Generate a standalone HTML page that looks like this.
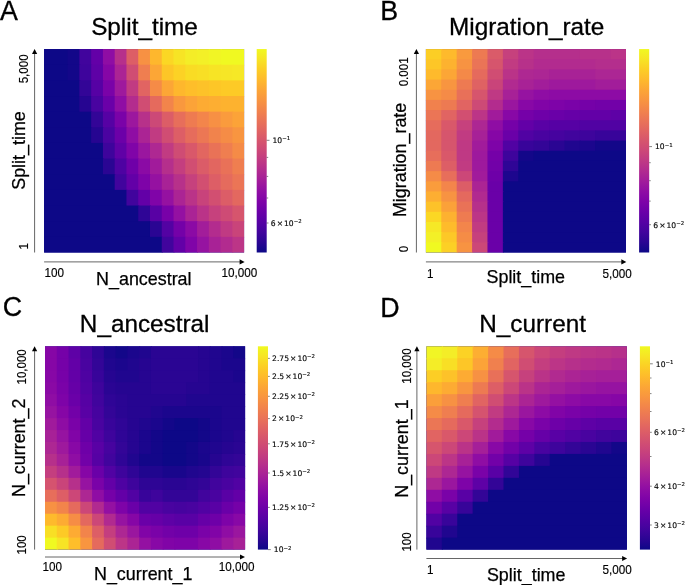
<!DOCTYPE html>
<html><head><meta charset="utf-8"><title>Figure</title>
<style>
html,body{margin:0;padding:0;background:#fff;}
body{width:685px;height:585px;overflow:hidden;}
svg{display:block;}
text{fill:#000;}
</style></head><body>
<svg width="685" height="585" viewBox="0 0 685 585">
<rect width="685" height="585" fill="#fff"/>
<text x="0" y="19.8" text-anchor="start" font-family="Liberation Sans, Arial, sans-serif" font-size="26.8" stroke="#000" stroke-width="0.3">A</text>
<text x="144.5" y="35.2" text-anchor="middle" font-family="Liberation Sans, Arial, sans-serif" font-size="24.3" stroke="#000" stroke-width="0.3">Split_time</text>
<rect x="44.10" y="49.06" width="200.00" height="203.44" fill="#0d0887"/>
<rect x="44.10" y="49.06" width="24.53" height="16.65" fill="#0d0887"/>
<rect x="67.63" y="49.06" width="12.76" height="16.65" fill="#130789"/>
<rect x="79.39" y="49.06" width="12.76" height="16.65" fill="#41049d"/>
<rect x="91.16" y="49.06" width="12.76" height="16.65" fill="#6300a7"/>
<rect x="102.92" y="49.06" width="12.76" height="16.65" fill="#8f0da4"/>
<rect x="114.69" y="49.06" width="12.76" height="16.65" fill="#b6308b"/>
<rect x="126.45" y="49.06" width="12.76" height="16.65" fill="#dd5e66"/>
<rect x="138.22" y="49.06" width="12.76" height="16.65" fill="#f79143"/>
<rect x="149.98" y="49.06" width="12.76" height="16.65" fill="#feb72d"/>
<rect x="161.75" y="49.06" width="12.76" height="16.65" fill="#fbd724"/>
<rect x="173.51" y="49.06" width="12.76" height="16.65" fill="#f7e425"/>
<rect x="185.28" y="49.06" width="12.76" height="16.65" fill="#f4ed27"/>
<rect x="197.04" y="49.06" width="12.76" height="16.65" fill="#f3f027"/>
<rect x="208.81" y="49.06" width="12.76" height="16.65" fill="#f1f525"/>
<rect x="220.57" y="49.06" width="23.53" height="16.65" fill="#f0f921"/>
<rect x="44.10" y="64.71" width="24.53" height="16.65" fill="#0d0887"/>
<rect x="67.63" y="64.71" width="12.76" height="16.65" fill="#130789"/>
<rect x="79.39" y="64.71" width="12.76" height="16.65" fill="#3e049c"/>
<rect x="91.16" y="64.71" width="12.76" height="16.65" fill="#5e01a6"/>
<rect x="102.92" y="64.71" width="12.76" height="16.65" fill="#8606a6"/>
<rect x="114.69" y="64.71" width="12.76" height="16.65" fill="#ab2494"/>
<rect x="126.45" y="64.71" width="12.76" height="16.65" fill="#d04d73"/>
<rect x="138.22" y="64.71" width="12.76" height="16.65" fill="#ef7e50"/>
<rect x="149.98" y="64.71" width="12.76" height="16.65" fill="#fca636"/>
<rect x="161.75" y="64.71" width="12.76" height="16.65" fill="#fdc627"/>
<rect x="173.51" y="64.71" width="12.76" height="16.65" fill="#fcd225"/>
<rect x="185.28" y="64.71" width="12.76" height="16.65" fill="#f9dc24"/>
<rect x="197.04" y="64.71" width="12.76" height="16.65" fill="#f8df25"/>
<rect x="208.81" y="64.71" width="12.76" height="16.65" fill="#f7e425"/>
<rect x="220.57" y="64.71" width="12.76" height="16.65" fill="#f6e626"/>
<rect x="232.34" y="64.71" width="11.76" height="16.65" fill="#f6e826"/>
<rect x="44.10" y="80.36" width="36.29" height="16.65" fill="#0d0887"/>
<rect x="79.39" y="80.36" width="12.76" height="16.65" fill="#330597"/>
<rect x="91.16" y="80.36" width="12.76" height="16.65" fill="#5601a4"/>
<rect x="102.92" y="80.36" width="12.76" height="16.65" fill="#7a02a8"/>
<rect x="114.69" y="80.36" width="12.76" height="16.65" fill="#9e199d"/>
<rect x="126.45" y="80.36" width="12.76" height="16.65" fill="#c13b82"/>
<rect x="138.22" y="80.36" width="12.76" height="16.65" fill="#e16462"/>
<rect x="149.98" y="80.36" width="12.76" height="16.65" fill="#f58b47"/>
<rect x="161.75" y="80.36" width="12.76" height="16.65" fill="#fca636"/>
<rect x="173.51" y="80.36" width="12.76" height="16.65" fill="#feb72d"/>
<rect x="185.28" y="80.36" width="12.76" height="16.65" fill="#febe2a"/>
<rect x="197.04" y="80.36" width="12.76" height="16.65" fill="#fdc229"/>
<rect x="208.81" y="80.36" width="12.76" height="16.65" fill="#fdc627"/>
<rect x="220.57" y="80.36" width="23.53" height="16.65" fill="#fdca26"/>
<rect x="44.10" y="96.01" width="36.29" height="16.65" fill="#0d0887"/>
<rect x="79.39" y="96.01" width="12.76" height="16.65" fill="#260591"/>
<rect x="91.16" y="96.01" width="12.76" height="16.65" fill="#4903a0"/>
<rect x="102.92" y="96.01" width="12.76" height="16.65" fill="#6a00a8"/>
<rect x="114.69" y="96.01" width="12.76" height="16.65" fill="#8f0da4"/>
<rect x="126.45" y="96.01" width="12.76" height="16.65" fill="#b32c8e"/>
<rect x="138.22" y="96.01" width="12.76" height="16.65" fill="#d04d73"/>
<rect x="149.98" y="96.01" width="12.76" height="16.65" fill="#e56a5d"/>
<rect x="161.75" y="96.01" width="12.76" height="16.65" fill="#f2844b"/>
<rect x="173.51" y="96.01" width="12.76" height="16.65" fill="#f9983e"/>
<rect x="185.28" y="96.01" width="12.76" height="16.65" fill="#fca338"/>
<rect x="197.04" y="96.01" width="12.76" height="16.65" fill="#fdab33"/>
<rect x="208.81" y="96.01" width="12.76" height="16.65" fill="#fdae32"/>
<rect x="220.57" y="96.01" width="23.53" height="16.65" fill="#fdb22f"/>
<rect x="44.10" y="111.66" width="48.06" height="16.65" fill="#0d0887"/>
<rect x="91.16" y="111.66" width="12.76" height="16.65" fill="#330597"/>
<rect x="102.92" y="111.66" width="12.76" height="16.65" fill="#5601a4"/>
<rect x="114.69" y="111.66" width="12.76" height="16.65" fill="#7a02a8"/>
<rect x="126.45" y="111.66" width="12.76" height="16.65" fill="#9c179e"/>
<rect x="138.22" y="111.66" width="12.76" height="16.65" fill="#b7318a"/>
<rect x="149.98" y="111.66" width="12.76" height="16.65" fill="#cc4977"/>
<rect x="161.75" y="111.66" width="12.76" height="16.65" fill="#dc5d67"/>
<rect x="173.51" y="111.66" width="12.76" height="16.65" fill="#e76e5b"/>
<rect x="185.28" y="111.66" width="12.76" height="16.65" fill="#ee7b51"/>
<rect x="197.04" y="111.66" width="12.76" height="16.65" fill="#f3854b"/>
<rect x="208.81" y="111.66" width="12.76" height="16.65" fill="#f79044"/>
<rect x="220.57" y="111.66" width="12.76" height="16.65" fill="#fa9b3d"/>
<rect x="232.34" y="111.66" width="11.76" height="16.65" fill="#fca338"/>
<rect x="44.10" y="127.31" width="48.06" height="16.65" fill="#0d0887"/>
<rect x="91.16" y="127.31" width="12.76" height="16.65" fill="#260591"/>
<rect x="102.92" y="127.31" width="12.76" height="16.65" fill="#4b03a1"/>
<rect x="114.69" y="127.31" width="12.76" height="16.65" fill="#6c00a8"/>
<rect x="126.45" y="127.31" width="12.76" height="16.65" fill="#8f0da4"/>
<rect x="138.22" y="127.31" width="12.76" height="16.65" fill="#ab2494"/>
<rect x="149.98" y="127.31" width="12.76" height="16.65" fill="#c13b82"/>
<rect x="161.75" y="127.31" width="12.76" height="16.65" fill="#d04d73"/>
<rect x="173.51" y="127.31" width="12.76" height="16.65" fill="#dd5e66"/>
<rect x="185.28" y="127.31" width="12.76" height="16.65" fill="#e66c5c"/>
<rect x="197.04" y="127.31" width="12.76" height="16.65" fill="#ec7754"/>
<rect x="208.81" y="127.31" width="12.76" height="16.65" fill="#f1834c"/>
<rect x="220.57" y="127.31" width="12.76" height="16.65" fill="#f58c46"/>
<rect x="232.34" y="127.31" width="11.76" height="16.65" fill="#f89540"/>
<rect x="44.10" y="142.96" width="59.82" height="16.65" fill="#0d0887"/>
<rect x="102.92" y="142.96" width="12.76" height="16.65" fill="#3e049c"/>
<rect x="114.69" y="142.96" width="12.76" height="16.65" fill="#6001a6"/>
<rect x="126.45" y="142.96" width="12.76" height="16.65" fill="#8004a8"/>
<rect x="138.22" y="142.96" width="12.76" height="16.65" fill="#9a169f"/>
<rect x="149.98" y="142.96" width="12.76" height="16.65" fill="#ae2892"/>
<rect x="161.75" y="142.96" width="12.76" height="16.65" fill="#c13b82"/>
<rect x="173.51" y="142.96" width="12.76" height="16.65" fill="#cf4c74"/>
<rect x="185.28" y="142.96" width="12.76" height="16.65" fill="#d9586a"/>
<rect x="197.04" y="142.96" width="12.76" height="16.65" fill="#e26660"/>
<rect x="208.81" y="142.96" width="12.76" height="16.65" fill="#e97257"/>
<rect x="220.57" y="142.96" width="12.76" height="16.65" fill="#ef7e50"/>
<rect x="232.34" y="142.96" width="11.76" height="16.65" fill="#f58b47"/>
<rect x="44.10" y="158.60" width="59.82" height="16.65" fill="#0d0887"/>
<rect x="102.92" y="158.60" width="12.76" height="16.65" fill="#2a0593"/>
<rect x="114.69" y="158.60" width="12.76" height="16.65" fill="#4e02a2"/>
<rect x="126.45" y="158.60" width="12.76" height="16.65" fill="#6f00a8"/>
<rect x="138.22" y="158.60" width="12.76" height="16.65" fill="#8b0aa5"/>
<rect x="149.98" y="158.60" width="12.76" height="16.65" fill="#a11b9b"/>
<rect x="161.75" y="158.60" width="12.76" height="16.65" fill="#b52f8c"/>
<rect x="173.51" y="158.60" width="12.76" height="16.65" fill="#c43e7f"/>
<rect x="185.28" y="158.60" width="12.76" height="16.65" fill="#d14e72"/>
<rect x="197.04" y="158.60" width="12.76" height="16.65" fill="#db5c68"/>
<rect x="208.81" y="158.60" width="12.76" height="16.65" fill="#e26660"/>
<rect x="220.57" y="158.60" width="12.76" height="16.65" fill="#e97158"/>
<rect x="232.34" y="158.60" width="11.76" height="16.65" fill="#ef7e50"/>
<rect x="44.10" y="174.25" width="71.59" height="16.65" fill="#0d0887"/>
<rect x="114.69" y="174.25" width="12.76" height="16.65" fill="#41049d"/>
<rect x="126.45" y="174.25" width="12.76" height="16.65" fill="#6300a7"/>
<rect x="138.22" y="174.25" width="12.76" height="16.65" fill="#7e03a8"/>
<rect x="149.98" y="174.25" width="12.76" height="16.65" fill="#9511a1"/>
<rect x="161.75" y="174.25" width="12.76" height="16.65" fill="#a82296"/>
<rect x="173.51" y="174.25" width="12.76" height="16.65" fill="#b7318a"/>
<rect x="185.28" y="174.25" width="12.76" height="16.65" fill="#c6417d"/>
<rect x="197.04" y="174.25" width="12.76" height="16.65" fill="#d24f71"/>
<rect x="208.81" y="174.25" width="12.76" height="16.65" fill="#dd5e66"/>
<rect x="220.57" y="174.25" width="12.76" height="16.65" fill="#e56b5d"/>
<rect x="232.34" y="174.25" width="11.76" height="16.65" fill="#eb7556"/>
<rect x="44.10" y="189.90" width="83.35" height="16.65" fill="#0d0887"/>
<rect x="126.45" y="189.90" width="12.76" height="16.65" fill="#41049d"/>
<rect x="138.22" y="189.90" width="12.76" height="16.65" fill="#6300a7"/>
<rect x="149.98" y="189.90" width="12.76" height="16.65" fill="#8004a8"/>
<rect x="161.75" y="189.90" width="12.76" height="16.65" fill="#9511a1"/>
<rect x="173.51" y="189.90" width="12.76" height="16.65" fill="#ab2494"/>
<rect x="185.28" y="189.90" width="12.76" height="16.65" fill="#ba3388"/>
<rect x="197.04" y="189.90" width="12.76" height="16.65" fill="#c8437b"/>
<rect x="208.81" y="189.90" width="12.76" height="16.65" fill="#d24f71"/>
<rect x="220.57" y="189.90" width="12.76" height="16.65" fill="#dc5d67"/>
<rect x="232.34" y="189.90" width="11.76" height="16.65" fill="#e3685f"/>
<rect x="44.10" y="205.55" width="95.12" height="16.65" fill="#0d0887"/>
<rect x="138.22" y="205.55" width="12.76" height="16.65" fill="#2f0596"/>
<rect x="149.98" y="205.55" width="12.76" height="16.65" fill="#5801a4"/>
<rect x="161.75" y="205.55" width="12.76" height="16.65" fill="#7801a8"/>
<rect x="173.51" y="205.55" width="12.76" height="16.65" fill="#9410a2"/>
<rect x="185.28" y="205.55" width="12.76" height="16.65" fill="#aa2395"/>
<rect x="197.04" y="205.55" width="12.76" height="16.65" fill="#ba3388"/>
<rect x="208.81" y="205.55" width="12.76" height="16.65" fill="#c6417d"/>
<rect x="220.57" y="205.55" width="12.76" height="16.65" fill="#ce4b75"/>
<rect x="232.34" y="205.55" width="11.76" height="16.65" fill="#d6556d"/>
<rect x="44.10" y="221.20" width="106.88" height="16.65" fill="#0d0887"/>
<rect x="149.98" y="221.20" width="12.76" height="16.65" fill="#2a0593"/>
<rect x="161.75" y="221.20" width="12.76" height="16.65" fill="#5302a3"/>
<rect x="173.51" y="221.20" width="12.76" height="16.65" fill="#7401a8"/>
<rect x="185.28" y="221.20" width="12.76" height="16.65" fill="#8b0aa5"/>
<rect x="197.04" y="221.20" width="12.76" height="16.65" fill="#a21d9a"/>
<rect x="208.81" y="221.20" width="12.76" height="16.65" fill="#b32c8e"/>
<rect x="220.57" y="221.20" width="12.76" height="16.65" fill="#c03a83"/>
<rect x="232.34" y="221.20" width="11.76" height="16.65" fill="#c9447a"/>
<rect x="44.10" y="236.85" width="118.65" height="15.65" fill="#0d0887"/>
<rect x="161.75" y="236.85" width="12.76" height="15.65" fill="#41049d"/>
<rect x="173.51" y="236.85" width="12.76" height="15.65" fill="#6300a7"/>
<rect x="185.28" y="236.85" width="12.76" height="15.65" fill="#8004a8"/>
<rect x="197.04" y="236.85" width="12.76" height="15.65" fill="#9613a1"/>
<rect x="208.81" y="236.85" width="12.76" height="15.65" fill="#a82296"/>
<rect x="220.57" y="236.85" width="12.76" height="15.65" fill="#b22b8f"/>
<rect x="232.34" y="236.85" width="11.76" height="15.65" fill="#bc3587"/>
<line x1="34.6" y1="252.5" x2="34.6" y2="52.06" stroke="#666" stroke-width="1"/>
<path d="M34.6 49.06 L32.0 54.06 L37.2 54.06 Z" fill="#000"/>
<line x1="44.1" y1="261.9" x2="241.6" y2="261.9" stroke="#666" stroke-width="1"/>
<path d="M244.6 261.9 L239.6 259.29999999999995 L239.6 264.5 Z" fill="#000"/>
<text transform="translate(44.6,277.2) scale(0.945,1)" text-anchor="start" font-family="Liberation Sans, Arial, sans-serif" font-size="12.4" stroke="#000" stroke-width="0.15">100</text>
<text transform="translate(257.2,277.2) scale(0.945,1)" text-anchor="end" font-family="Liberation Sans, Arial, sans-serif" font-size="12.4" stroke="#000" stroke-width="0.15">10,000</text>
<text x="143.8" y="284.8" text-anchor="middle" font-family="Liberation Sans, Arial, sans-serif" font-size="17.9" stroke="#000" stroke-width="0.25">N_ancestral</text>
<text transform="translate(27.6,249.4) rotate(-90) scale(0.94,1)" text-anchor="start" font-family="Liberation Sans, Arial, sans-serif" font-size="12.3" stroke="#000" stroke-width="0.15">1</text>
<text transform="translate(27.9,54.4) rotate(-90) scale(0.94,1)" text-anchor="end" font-family="Liberation Sans, Arial, sans-serif" font-size="12.3" stroke="#000" stroke-width="0.15">5,000</text>
<text transform="translate(24.8,150.5) rotate(-90)" text-anchor="middle" font-family="Liberation Sans, Arial, sans-serif" font-size="17.9" stroke="#000" stroke-width="0.25">Split_time</text>
<defs><linearGradient id="cb0" x1="0" y1="0" x2="0" y2="1"><stop offset="0.00" stop-color="#f0f921"/><stop offset="0.05" stop-color="#f7e425"/><stop offset="0.10" stop-color="#fcce25"/><stop offset="0.15" stop-color="#feba2c"/><stop offset="0.20" stop-color="#fca636"/><stop offset="0.25" stop-color="#f89540"/><stop offset="0.30" stop-color="#f2844b"/><stop offset="0.35" stop-color="#ea7457"/><stop offset="0.40" stop-color="#e16462"/><stop offset="0.45" stop-color="#d6556d"/><stop offset="0.50" stop-color="#cc4778"/><stop offset="0.55" stop-color="#bf3984"/><stop offset="0.60" stop-color="#b12a90"/><stop offset="0.65" stop-color="#a11b9b"/><stop offset="0.70" stop-color="#8f0da4"/><stop offset="0.75" stop-color="#7e03a8"/><stop offset="0.80" stop-color="#6a00a8"/><stop offset="0.85" stop-color="#5601a4"/><stop offset="0.90" stop-color="#41049d"/><stop offset="0.95" stop-color="#2a0593"/><stop offset="1.00" stop-color="#0d0887"/></linearGradient></defs>
<rect x="256.70" y="49.06" width="10.00" height="203.44" fill="url(#cb0)"/>
<line x1="266.70" y1="140.30" x2="269.50" y2="140.30" stroke="#333" stroke-width="0.6"/>
<text x="272.50" y="143.10" font-family="DejaVu Sans, sans-serif" font-size="7.6" fill="#111" stroke="#111" stroke-width="0.15">10<tspan dy="-2.8" font-size="5.4">−1</tspan></text>
<line x1="266.70" y1="157.40" x2="268.20" y2="157.40" stroke="#333" stroke-width="0.6"/>
<line x1="266.70" y1="176.40" x2="268.20" y2="176.40" stroke="#333" stroke-width="0.6"/>
<line x1="266.70" y1="198.00" x2="268.20" y2="198.00" stroke="#333" stroke-width="0.6"/>
<line x1="266.70" y1="223.00" x2="268.50" y2="223.00" stroke="#333" stroke-width="0.6"/>
<text x="270.80" y="225.80" font-family="DejaVu Sans, sans-serif" font-size="7.6" fill="#111" stroke="#111" stroke-width="0.15">6<tspan dx="1.0">×</tspan><tspan dx="1.0">10</tspan><tspan dy="-2.8" font-size="5.4">−2</tspan></text>
<text x="380.2" y="20.3" text-anchor="start" font-family="Liberation Sans, Arial, sans-serif" font-size="26.8" stroke="#000" stroke-width="0.3">B</text>
<text x="526.7" y="35.2" text-anchor="middle" font-family="Liberation Sans, Arial, sans-serif" font-size="24.3" stroke="#000" stroke-width="0.3">Migration_rate</text>
<rect x="425.90" y="49.06" width="200.10" height="203.44" fill="#0d0887"/>
<rect x="425.90" y="49.06" width="16.39" height="11.17" fill="#fcce25"/>
<rect x="441.29" y="49.06" width="16.39" height="11.17" fill="#feba2c"/>
<rect x="456.68" y="49.06" width="16.39" height="11.17" fill="#f99a3e"/>
<rect x="472.08" y="49.06" width="16.39" height="11.17" fill="#ed7a52"/>
<rect x="487.47" y="49.06" width="16.39" height="11.17" fill="#da5b69"/>
<rect x="502.86" y="49.06" width="16.39" height="11.17" fill="#c6417d"/>
<rect x="518.25" y="49.06" width="16.39" height="11.17" fill="#bb3488"/>
<rect x="533.65" y="49.06" width="47.18" height="11.17" fill="#b52f8c"/>
<rect x="579.82" y="49.06" width="31.78" height="11.17" fill="#b7318a"/>
<rect x="610.61" y="49.06" width="15.39" height="11.17" fill="#bb3488"/>
<rect x="425.90" y="59.23" width="16.39" height="11.17" fill="#fdc627"/>
<rect x="441.29" y="59.23" width="16.39" height="11.17" fill="#fdb22f"/>
<rect x="456.68" y="59.23" width="16.39" height="11.17" fill="#f79342"/>
<rect x="472.08" y="59.23" width="16.39" height="11.17" fill="#ea7457"/>
<rect x="487.47" y="59.23" width="16.39" height="11.17" fill="#d6556d"/>
<rect x="502.86" y="59.23" width="16.39" height="11.17" fill="#c13b82"/>
<rect x="518.25" y="59.23" width="16.39" height="11.17" fill="#b7318a"/>
<rect x="533.65" y="59.23" width="62.57" height="11.17" fill="#b22b8f"/>
<rect x="595.22" y="59.23" width="30.78" height="11.17" fill="#b42e8d"/>
<rect x="425.90" y="69.40" width="16.39" height="11.17" fill="#feba2c"/>
<rect x="441.29" y="69.40" width="16.39" height="11.17" fill="#fca636"/>
<rect x="456.68" y="69.40" width="16.39" height="11.17" fill="#f48948"/>
<rect x="472.08" y="69.40" width="16.39" height="11.17" fill="#e56a5d"/>
<rect x="487.47" y="69.40" width="16.39" height="11.17" fill="#d04d73"/>
<rect x="502.86" y="69.40" width="16.39" height="11.17" fill="#ba3388"/>
<rect x="518.25" y="69.40" width="16.39" height="11.17" fill="#ae2892"/>
<rect x="533.65" y="69.40" width="16.39" height="11.17" fill="#ac2694"/>
<rect x="549.04" y="69.40" width="47.18" height="11.17" fill="#a82296"/>
<rect x="595.22" y="69.40" width="30.78" height="11.17" fill="#ac2694"/>
<rect x="425.90" y="79.58" width="16.39" height="11.17" fill="#fca636"/>
<rect x="441.29" y="79.58" width="16.39" height="11.17" fill="#f89540"/>
<rect x="456.68" y="79.58" width="16.39" height="11.17" fill="#ed7a52"/>
<rect x="472.08" y="79.58" width="16.39" height="11.17" fill="#df6263"/>
<rect x="487.47" y="79.58" width="16.39" height="11.17" fill="#c9447a"/>
<rect x="502.86" y="79.58" width="16.39" height="11.17" fill="#b12a90"/>
<rect x="518.25" y="79.58" width="16.39" height="11.17" fill="#a82296"/>
<rect x="533.65" y="79.58" width="16.39" height="11.17" fill="#a21d9a"/>
<rect x="549.04" y="79.58" width="47.18" height="11.17" fill="#9e199d"/>
<rect x="595.22" y="79.58" width="30.78" height="11.17" fill="#a21d9a"/>
<rect x="425.90" y="89.75" width="16.39" height="11.17" fill="#f79342"/>
<rect x="441.29" y="89.75" width="16.39" height="11.17" fill="#f58b47"/>
<rect x="456.68" y="89.75" width="16.39" height="11.17" fill="#e87059"/>
<rect x="472.08" y="89.75" width="16.39" height="11.17" fill="#d6556d"/>
<rect x="487.47" y="89.75" width="16.39" height="11.17" fill="#bf3984"/>
<rect x="502.86" y="89.75" width="16.39" height="11.17" fill="#a72197"/>
<rect x="518.25" y="89.75" width="16.39" height="11.17" fill="#9613a1"/>
<rect x="533.65" y="89.75" width="16.39" height="11.17" fill="#8f0da4"/>
<rect x="549.04" y="89.75" width="76.96" height="11.17" fill="#8d0ba5"/>
<rect x="425.90" y="99.92" width="16.39" height="11.17" fill="#f1814d"/>
<rect x="441.29" y="99.92" width="16.39" height="11.17" fill="#ed7a52"/>
<rect x="456.68" y="99.92" width="16.39" height="11.17" fill="#e16462"/>
<rect x="472.08" y="99.92" width="16.39" height="11.17" fill="#cd4a76"/>
<rect x="487.47" y="99.92" width="16.39" height="11.17" fill="#b32c8e"/>
<rect x="502.86" y="99.92" width="16.39" height="11.17" fill="#9a169f"/>
<rect x="518.25" y="99.92" width="16.39" height="11.17" fill="#8808a6"/>
<rect x="533.65" y="99.92" width="16.39" height="11.17" fill="#8104a7"/>
<rect x="549.04" y="99.92" width="16.39" height="11.17" fill="#7e03a8"/>
<rect x="564.43" y="99.92" width="16.39" height="11.17" fill="#7a02a8"/>
<rect x="579.82" y="99.92" width="16.39" height="11.17" fill="#7501a8"/>
<rect x="595.22" y="99.92" width="30.78" height="11.17" fill="#7201a8"/>
<rect x="425.90" y="110.09" width="16.39" height="11.17" fill="#eb7556"/>
<rect x="441.29" y="110.09" width="16.39" height="11.17" fill="#e16462"/>
<rect x="456.68" y="110.09" width="16.39" height="11.17" fill="#d24f71"/>
<rect x="472.08" y="110.09" width="16.39" height="11.17" fill="#bc3587"/>
<rect x="487.47" y="110.09" width="16.39" height="11.17" fill="#a11b9b"/>
<rect x="502.86" y="110.09" width="16.39" height="11.17" fill="#8808a6"/>
<rect x="518.25" y="110.09" width="16.39" height="11.17" fill="#7501a8"/>
<rect x="533.65" y="110.09" width="16.39" height="11.17" fill="#6e00a8"/>
<rect x="549.04" y="110.09" width="16.39" height="11.17" fill="#6a00a8"/>
<rect x="564.43" y="110.09" width="16.39" height="11.17" fill="#6600a7"/>
<rect x="579.82" y="110.09" width="31.78" height="11.17" fill="#6300a7"/>
<rect x="610.61" y="110.09" width="15.39" height="11.17" fill="#5e01a6"/>
<rect x="425.90" y="120.26" width="16.39" height="11.17" fill="#e66c5c"/>
<rect x="441.29" y="120.26" width="16.39" height="11.17" fill="#d9586a"/>
<rect x="456.68" y="120.26" width="16.39" height="11.17" fill="#c6417d"/>
<rect x="472.08" y="120.26" width="16.39" height="11.17" fill="#ad2793"/>
<rect x="487.47" y="120.26" width="16.39" height="11.17" fill="#8f0da4"/>
<rect x="502.86" y="120.26" width="16.39" height="11.17" fill="#7501a8"/>
<rect x="518.25" y="120.26" width="16.39" height="11.17" fill="#6300a7"/>
<rect x="533.65" y="120.26" width="16.39" height="11.17" fill="#5901a5"/>
<rect x="549.04" y="120.26" width="31.78" height="11.17" fill="#5601a4"/>
<rect x="579.82" y="120.26" width="46.18" height="11.17" fill="#5102a3"/>
<rect x="425.90" y="130.44" width="16.39" height="11.17" fill="#e3685f"/>
<rect x="441.29" y="130.44" width="16.39" height="11.17" fill="#d6556d"/>
<rect x="456.68" y="130.44" width="16.39" height="11.17" fill="#c13b82"/>
<rect x="472.08" y="130.44" width="16.39" height="11.17" fill="#a72197"/>
<rect x="487.47" y="130.44" width="16.39" height="11.17" fill="#8606a6"/>
<rect x="502.86" y="130.44" width="16.39" height="11.17" fill="#6a00a8"/>
<rect x="518.25" y="130.44" width="16.39" height="11.17" fill="#5102a3"/>
<rect x="533.65" y="130.44" width="16.39" height="11.17" fill="#4903a0"/>
<rect x="549.04" y="130.44" width="16.39" height="11.17" fill="#46039f"/>
<rect x="564.43" y="130.44" width="16.39" height="11.17" fill="#41049d"/>
<rect x="579.82" y="130.44" width="16.39" height="11.17" fill="#3e049c"/>
<rect x="595.22" y="130.44" width="30.78" height="11.17" fill="#38049a"/>
<rect x="425.90" y="140.61" width="16.39" height="11.17" fill="#e3685f"/>
<rect x="441.29" y="140.61" width="16.39" height="11.17" fill="#d6556d"/>
<rect x="456.68" y="140.61" width="16.39" height="11.17" fill="#bf3984"/>
<rect x="472.08" y="140.61" width="16.39" height="11.17" fill="#a11b9b"/>
<rect x="487.47" y="140.61" width="16.39" height="11.17" fill="#7e03a8"/>
<rect x="502.86" y="140.61" width="16.39" height="11.17" fill="#5102a3"/>
<rect x="518.25" y="140.61" width="16.39" height="11.17" fill="#38049a"/>
<rect x="533.65" y="140.61" width="16.39" height="11.17" fill="#330597"/>
<rect x="549.04" y="140.61" width="16.39" height="11.17" fill="#2a0593"/>
<rect x="564.43" y="140.61" width="16.39" height="11.17" fill="#20068f"/>
<rect x="579.82" y="140.61" width="16.39" height="11.17" fill="#1b068d"/>
<rect x="595.22" y="140.61" width="30.78" height="11.17" fill="#130789"/>
<rect x="425.90" y="150.78" width="16.39" height="11.17" fill="#e76e5b"/>
<rect x="441.29" y="150.78" width="16.39" height="11.17" fill="#d9586a"/>
<rect x="456.68" y="150.78" width="16.39" height="11.17" fill="#bf3984"/>
<rect x="472.08" y="150.78" width="16.39" height="11.17" fill="#9e199d"/>
<rect x="487.47" y="150.78" width="16.39" height="11.17" fill="#7501a8"/>
<rect x="502.86" y="150.78" width="16.39" height="11.17" fill="#3e049c"/>
<rect x="518.25" y="150.78" width="16.39" height="11.17" fill="#130789"/>
<rect x="533.65" y="150.78" width="92.35" height="11.17" fill="#0d0887"/>
<rect x="425.90" y="160.95" width="16.39" height="11.17" fill="#ed7a52"/>
<rect x="441.29" y="160.95" width="16.39" height="11.17" fill="#dd5e66"/>
<rect x="456.68" y="160.95" width="16.39" height="11.17" fill="#c13b82"/>
<rect x="472.08" y="160.95" width="16.39" height="11.17" fill="#9e199d"/>
<rect x="487.47" y="160.95" width="16.39" height="11.17" fill="#7201a8"/>
<rect x="502.86" y="160.95" width="16.39" height="11.17" fill="#2f0596"/>
<rect x="518.25" y="160.95" width="107.75" height="11.17" fill="#0d0887"/>
<rect x="425.90" y="171.12" width="16.39" height="11.17" fill="#f58b47"/>
<rect x="441.29" y="171.12" width="16.39" height="11.17" fill="#e76e5b"/>
<rect x="456.68" y="171.12" width="16.39" height="11.17" fill="#cc4778"/>
<rect x="472.08" y="171.12" width="16.39" height="11.17" fill="#a11b9b"/>
<rect x="487.47" y="171.12" width="16.39" height="11.17" fill="#6e00a8"/>
<rect x="502.86" y="171.12" width="16.39" height="11.17" fill="#1d068e"/>
<rect x="518.25" y="171.12" width="107.75" height="11.17" fill="#0d0887"/>
<rect x="425.90" y="181.30" width="16.39" height="11.17" fill="#fa9c3c"/>
<rect x="441.29" y="181.30" width="16.39" height="11.17" fill="#f3854b"/>
<rect x="456.68" y="181.30" width="16.39" height="11.17" fill="#dc5d67"/>
<rect x="472.08" y="181.30" width="16.39" height="11.17" fill="#ab2494"/>
<rect x="487.47" y="181.30" width="16.39" height="11.17" fill="#6a00a8"/>
<rect x="502.86" y="181.30" width="123.14" height="11.17" fill="#0d0887"/>
<rect x="425.90" y="191.47" width="16.39" height="11.17" fill="#fdae32"/>
<rect x="441.29" y="191.47" width="16.39" height="11.17" fill="#f79342"/>
<rect x="456.68" y="191.47" width="16.39" height="11.17" fill="#e4695e"/>
<rect x="472.08" y="191.47" width="16.39" height="11.17" fill="#b12a90"/>
<rect x="487.47" y="191.47" width="16.39" height="11.17" fill="#6a00a8"/>
<rect x="502.86" y="191.47" width="123.14" height="11.17" fill="#0d0887"/>
<rect x="425.90" y="201.64" width="16.39" height="11.17" fill="#fdc229"/>
<rect x="441.29" y="201.64" width="16.39" height="11.17" fill="#fba139"/>
<rect x="456.68" y="201.64" width="16.39" height="11.17" fill="#e97257"/>
<rect x="472.08" y="201.64" width="16.39" height="11.17" fill="#b6308b"/>
<rect x="487.47" y="201.64" width="16.39" height="11.17" fill="#6a00a8"/>
<rect x="502.86" y="201.64" width="123.14" height="11.17" fill="#0d0887"/>
<rect x="425.90" y="211.81" width="16.39" height="11.17" fill="#fbd724"/>
<rect x="441.29" y="211.81" width="16.39" height="11.17" fill="#fdb130"/>
<rect x="456.68" y="211.81" width="16.39" height="11.17" fill="#ee7b51"/>
<rect x="472.08" y="211.81" width="16.39" height="11.17" fill="#bc3587"/>
<rect x="487.47" y="211.81" width="16.39" height="11.17" fill="#6a00a8"/>
<rect x="502.86" y="211.81" width="123.14" height="11.17" fill="#0d0887"/>
<rect x="425.90" y="221.98" width="16.39" height="11.17" fill="#f6e826"/>
<rect x="441.29" y="221.98" width="16.39" height="11.17" fill="#febb2b"/>
<rect x="456.68" y="221.98" width="16.39" height="11.17" fill="#f3854b"/>
<rect x="472.08" y="221.98" width="16.39" height="11.17" fill="#c13b82"/>
<rect x="487.47" y="221.98" width="16.39" height="11.17" fill="#6a00a8"/>
<rect x="502.86" y="221.98" width="123.14" height="11.17" fill="#0d0887"/>
<rect x="425.90" y="232.16" width="16.39" height="11.17" fill="#f3f027"/>
<rect x="441.29" y="232.16" width="16.39" height="11.17" fill="#fdc827"/>
<rect x="456.68" y="232.16" width="16.39" height="11.17" fill="#f58c46"/>
<rect x="472.08" y="232.16" width="16.39" height="11.17" fill="#c6417d"/>
<rect x="487.47" y="232.16" width="16.39" height="11.17" fill="#6a00a8"/>
<rect x="502.86" y="232.16" width="123.14" height="11.17" fill="#0d0887"/>
<rect x="425.90" y="242.33" width="16.39" height="10.17" fill="#f0f921"/>
<rect x="441.29" y="242.33" width="16.39" height="10.17" fill="#fcd025"/>
<rect x="456.68" y="242.33" width="16.39" height="10.17" fill="#f79342"/>
<rect x="472.08" y="242.33" width="16.39" height="10.17" fill="#cc4778"/>
<rect x="487.47" y="242.33" width="16.39" height="10.17" fill="#6a00a8"/>
<rect x="502.86" y="242.33" width="123.14" height="10.17" fill="#0d0887"/>
<line x1="416.4" y1="252.5" x2="416.4" y2="52.06" stroke="#666" stroke-width="1"/>
<path d="M416.4 49.06 L413.79999999999995 54.06 L419.0 54.06 Z" fill="#000"/>
<line x1="425.9" y1="261.9" x2="623.3" y2="261.9" stroke="#666" stroke-width="1"/>
<path d="M626.3 261.9 L621.3 259.29999999999995 L621.3 264.5 Z" fill="#000"/>
<text transform="translate(427,278.2) scale(0.945,1)" text-anchor="start" font-family="Liberation Sans, Arial, sans-serif" font-size="12.4" stroke="#000" stroke-width="0.15">1</text>
<text transform="translate(631.8,278.2) scale(0.945,1)" text-anchor="end" font-family="Liberation Sans, Arial, sans-serif" font-size="12.4" stroke="#000" stroke-width="0.15">5,000</text>
<text x="525.8" y="283.4" text-anchor="middle" font-family="Liberation Sans, Arial, sans-serif" font-size="17.9" stroke="#000" stroke-width="0.25">Split_time</text>
<text transform="translate(408.0,252.2) rotate(-90) scale(0.94,1)" text-anchor="start" font-family="Liberation Sans, Arial, sans-serif" font-size="12.3" stroke="#000" stroke-width="0.15">0</text>
<text transform="translate(408.0,57.4) rotate(-90) scale(0.94,1)" text-anchor="end" font-family="Liberation Sans, Arial, sans-serif" font-size="12.3" stroke="#000" stroke-width="0.15">0.001</text>
<text transform="translate(406,159.9) rotate(-90)" text-anchor="middle" font-family="Liberation Sans, Arial, sans-serif" font-size="17.9" stroke="#000" stroke-width="0.25">Migration_rate</text>
<defs><linearGradient id="cb1" x1="0" y1="0" x2="0" y2="1"><stop offset="0.00" stop-color="#f0f921"/><stop offset="0.05" stop-color="#f7e425"/><stop offset="0.10" stop-color="#fcce25"/><stop offset="0.15" stop-color="#feba2c"/><stop offset="0.20" stop-color="#fca636"/><stop offset="0.25" stop-color="#f89540"/><stop offset="0.30" stop-color="#f2844b"/><stop offset="0.35" stop-color="#ea7457"/><stop offset="0.40" stop-color="#e16462"/><stop offset="0.45" stop-color="#d6556d"/><stop offset="0.50" stop-color="#cc4778"/><stop offset="0.55" stop-color="#bf3984"/><stop offset="0.60" stop-color="#b12a90"/><stop offset="0.65" stop-color="#a11b9b"/><stop offset="0.70" stop-color="#8f0da4"/><stop offset="0.75" stop-color="#7e03a8"/><stop offset="0.80" stop-color="#6a00a8"/><stop offset="0.85" stop-color="#5601a4"/><stop offset="0.90" stop-color="#41049d"/><stop offset="0.95" stop-color="#2a0593"/><stop offset="1.00" stop-color="#0d0887"/></linearGradient></defs>
<rect x="639.10" y="49.06" width="10.10" height="203.44" fill="url(#cb1)"/>
<line x1="649.20" y1="146.60" x2="652.00" y2="146.60" stroke="#333" stroke-width="0.6"/>
<text x="655.00" y="149.40" font-family="DejaVu Sans, sans-serif" font-size="7.6" fill="#111" stroke="#111" stroke-width="0.15">10<tspan dy="-2.8" font-size="5.4">−1</tspan></text>
<line x1="649.20" y1="162.70" x2="650.70" y2="162.70" stroke="#333" stroke-width="0.6"/>
<line x1="649.20" y1="180.70" x2="650.70" y2="180.70" stroke="#333" stroke-width="0.6"/>
<line x1="649.20" y1="201.10" x2="650.70" y2="201.10" stroke="#333" stroke-width="0.6"/>
<line x1="649.20" y1="224.70" x2="651.00" y2="224.70" stroke="#333" stroke-width="0.6"/>
<text x="653.30" y="227.50" font-family="DejaVu Sans, sans-serif" font-size="7.6" fill="#111" stroke="#111" stroke-width="0.15">6<tspan dx="1.0">×</tspan><tspan dx="1.0">10</tspan><tspan dy="-2.8" font-size="5.4">−2</tspan></text>
<text x="2.8" y="316" text-anchor="start" font-family="Liberation Sans, Arial, sans-serif" font-size="26.8" stroke="#000" stroke-width="0.3">C</text>
<text x="144.7" y="332" text-anchor="middle" font-family="Liberation Sans, Arial, sans-serif" font-size="24.3" stroke="#000" stroke-width="0.3">N_ancestral</text>
<rect x="45.00" y="346.30" width="200.10" height="203.30" fill="#0d0887"/>
<rect x="45.00" y="346.30" width="12.77" height="12.96" fill="#8606a6"/>
<rect x="56.77" y="346.30" width="12.77" height="12.96" fill="#7501a8"/>
<rect x="68.54" y="346.30" width="12.77" height="12.96" fill="#5e01a6"/>
<rect x="80.31" y="346.30" width="12.77" height="12.96" fill="#46039f"/>
<rect x="92.08" y="346.30" width="12.77" height="12.96" fill="#2f0596"/>
<rect x="103.85" y="346.30" width="12.77" height="12.96" fill="#1b068d"/>
<rect x="115.62" y="346.30" width="12.77" height="12.96" fill="#130789"/>
<rect x="127.39" y="346.30" width="12.77" height="12.96" fill="#1b068d"/>
<rect x="139.16" y="346.30" width="12.77" height="12.96" fill="#20068f"/>
<rect x="150.94" y="346.30" width="48.08" height="12.96" fill="#2a0593"/>
<rect x="198.02" y="346.30" width="12.77" height="12.96" fill="#260591"/>
<rect x="209.79" y="346.30" width="12.77" height="12.96" fill="#20068f"/>
<rect x="221.56" y="346.30" width="12.77" height="12.96" fill="#1b068d"/>
<rect x="233.33" y="346.30" width="11.77" height="12.96" fill="#130789"/>
<rect x="45.00" y="358.26" width="12.77" height="12.96" fill="#8606a6"/>
<rect x="56.77" y="358.26" width="12.77" height="12.96" fill="#7501a8"/>
<rect x="68.54" y="358.26" width="12.77" height="12.96" fill="#6300a7"/>
<rect x="80.31" y="358.26" width="12.77" height="12.96" fill="#4903a0"/>
<rect x="92.08" y="358.26" width="12.77" height="12.96" fill="#330597"/>
<rect x="103.85" y="358.26" width="12.77" height="12.96" fill="#20068f"/>
<rect x="115.62" y="358.26" width="12.77" height="12.96" fill="#1b068d"/>
<rect x="127.39" y="358.26" width="12.77" height="12.96" fill="#20068f"/>
<rect x="139.16" y="358.26" width="12.77" height="12.96" fill="#260591"/>
<rect x="150.94" y="358.26" width="48.08" height="12.96" fill="#2a0593"/>
<rect x="198.02" y="358.26" width="12.77" height="12.96" fill="#260591"/>
<rect x="209.79" y="358.26" width="12.77" height="12.96" fill="#20068f"/>
<rect x="221.56" y="358.26" width="23.54" height="12.96" fill="#1b068d"/>
<rect x="45.00" y="370.22" width="12.77" height="12.96" fill="#8707a6"/>
<rect x="56.77" y="370.22" width="12.77" height="12.96" fill="#7701a8"/>
<rect x="68.54" y="370.22" width="12.77" height="12.96" fill="#6300a7"/>
<rect x="80.31" y="370.22" width="12.77" height="12.96" fill="#4e02a2"/>
<rect x="92.08" y="370.22" width="12.77" height="12.96" fill="#38049a"/>
<rect x="103.85" y="370.22" width="12.77" height="12.96" fill="#260591"/>
<rect x="115.62" y="370.22" width="24.54" height="12.96" fill="#20068f"/>
<rect x="139.16" y="370.22" width="12.77" height="12.96" fill="#260591"/>
<rect x="150.94" y="370.22" width="48.08" height="12.96" fill="#2a0593"/>
<rect x="198.02" y="370.22" width="12.77" height="12.96" fill="#260591"/>
<rect x="209.79" y="370.22" width="24.54" height="12.96" fill="#20068f"/>
<rect x="233.33" y="370.22" width="11.77" height="12.96" fill="#1b068d"/>
<rect x="45.00" y="382.18" width="12.77" height="12.96" fill="#8a09a5"/>
<rect x="56.77" y="382.18" width="12.77" height="12.96" fill="#7a02a8"/>
<rect x="68.54" y="382.18" width="12.77" height="12.96" fill="#6600a7"/>
<rect x="80.31" y="382.18" width="12.77" height="12.96" fill="#5102a3"/>
<rect x="92.08" y="382.18" width="12.77" height="12.96" fill="#3e049c"/>
<rect x="103.85" y="382.18" width="12.77" height="12.96" fill="#2a0593"/>
<rect x="115.62" y="382.18" width="36.31" height="12.96" fill="#260591"/>
<rect x="150.94" y="382.18" width="36.31" height="12.96" fill="#2a0593"/>
<rect x="186.25" y="382.18" width="24.54" height="12.96" fill="#260591"/>
<rect x="209.79" y="382.18" width="35.31" height="12.96" fill="#20068f"/>
<rect x="45.00" y="394.14" width="12.77" height="12.96" fill="#8f0da4"/>
<rect x="56.77" y="394.14" width="12.77" height="12.96" fill="#7e03a8"/>
<rect x="68.54" y="394.14" width="12.77" height="12.96" fill="#6a00a8"/>
<rect x="80.31" y="394.14" width="12.77" height="12.96" fill="#5601a4"/>
<rect x="92.08" y="394.14" width="12.77" height="12.96" fill="#41049d"/>
<rect x="103.85" y="394.14" width="12.77" height="12.96" fill="#2f0596"/>
<rect x="115.62" y="394.14" width="12.77" height="12.96" fill="#2a0593"/>
<rect x="127.39" y="394.14" width="59.85" height="12.96" fill="#260591"/>
<rect x="186.25" y="394.14" width="58.85" height="12.96" fill="#20068f"/>
<rect x="45.00" y="406.09" width="12.77" height="12.96" fill="#9613a1"/>
<rect x="56.77" y="406.09" width="12.77" height="12.96" fill="#8606a6"/>
<rect x="68.54" y="406.09" width="12.77" height="12.96" fill="#7201a8"/>
<rect x="80.31" y="406.09" width="12.77" height="12.96" fill="#5901a5"/>
<rect x="92.08" y="406.09" width="12.77" height="12.96" fill="#46039f"/>
<rect x="103.85" y="406.09" width="12.77" height="12.96" fill="#330597"/>
<rect x="115.62" y="406.09" width="12.77" height="12.96" fill="#2a0593"/>
<rect x="127.39" y="406.09" width="24.54" height="12.96" fill="#260591"/>
<rect x="150.94" y="406.09" width="12.77" height="12.96" fill="#20068f"/>
<rect x="162.71" y="406.09" width="59.85" height="12.96" fill="#1b068d"/>
<rect x="221.56" y="406.09" width="23.54" height="12.96" fill="#20068f"/>
<rect x="45.00" y="418.05" width="12.77" height="12.96" fill="#a01a9c"/>
<rect x="56.77" y="418.05" width="12.77" height="12.96" fill="#8e0ca4"/>
<rect x="68.54" y="418.05" width="12.77" height="12.96" fill="#7a02a8"/>
<rect x="80.31" y="418.05" width="12.77" height="12.96" fill="#6300a7"/>
<rect x="92.08" y="418.05" width="12.77" height="12.96" fill="#4903a0"/>
<rect x="103.85" y="418.05" width="12.77" height="12.96" fill="#38049a"/>
<rect x="115.62" y="418.05" width="12.77" height="12.96" fill="#2f0596"/>
<rect x="127.39" y="418.05" width="12.77" height="12.96" fill="#260591"/>
<rect x="139.16" y="418.05" width="12.77" height="12.96" fill="#20068f"/>
<rect x="150.94" y="418.05" width="12.77" height="12.96" fill="#1b068d"/>
<rect x="162.71" y="418.05" width="12.77" height="12.96" fill="#130789"/>
<rect x="174.48" y="418.05" width="24.54" height="12.96" fill="#0d0887"/>
<rect x="198.02" y="418.05" width="12.77" height="12.96" fill="#130789"/>
<rect x="209.79" y="418.05" width="12.77" height="12.96" fill="#1b068d"/>
<rect x="221.56" y="418.05" width="23.54" height="12.96" fill="#20068f"/>
<rect x="45.00" y="430.01" width="12.77" height="12.96" fill="#a72197"/>
<rect x="56.77" y="430.01" width="12.77" height="12.96" fill="#9613a1"/>
<rect x="68.54" y="430.01" width="12.77" height="12.96" fill="#8104a7"/>
<rect x="80.31" y="430.01" width="12.77" height="12.96" fill="#6600a7"/>
<rect x="92.08" y="430.01" width="12.77" height="12.96" fill="#5102a3"/>
<rect x="103.85" y="430.01" width="12.77" height="12.96" fill="#3e049c"/>
<rect x="115.62" y="430.01" width="12.77" height="12.96" fill="#2f0596"/>
<rect x="127.39" y="430.01" width="12.77" height="12.96" fill="#260591"/>
<rect x="139.16" y="430.01" width="12.77" height="12.96" fill="#1b068d"/>
<rect x="150.94" y="430.01" width="12.77" height="12.96" fill="#130789"/>
<rect x="162.71" y="430.01" width="36.31" height="12.96" fill="#0d0887"/>
<rect x="198.02" y="430.01" width="12.77" height="12.96" fill="#130789"/>
<rect x="209.79" y="430.01" width="12.77" height="12.96" fill="#1b068d"/>
<rect x="221.56" y="430.01" width="12.77" height="12.96" fill="#20068f"/>
<rect x="233.33" y="430.01" width="11.77" height="12.96" fill="#260591"/>
<rect x="45.00" y="441.97" width="12.77" height="12.96" fill="#ad2793"/>
<rect x="56.77" y="441.97" width="12.77" height="12.96" fill="#9e199d"/>
<rect x="68.54" y="441.97" width="12.77" height="12.96" fill="#8808a6"/>
<rect x="80.31" y="441.97" width="12.77" height="12.96" fill="#6e00a8"/>
<rect x="92.08" y="441.97" width="12.77" height="12.96" fill="#5901a5"/>
<rect x="103.85" y="441.97" width="12.77" height="12.96" fill="#46039f"/>
<rect x="115.62" y="441.97" width="12.77" height="12.96" fill="#330597"/>
<rect x="127.39" y="441.97" width="12.77" height="12.96" fill="#260591"/>
<rect x="139.16" y="441.97" width="12.77" height="12.96" fill="#1b068d"/>
<rect x="150.94" y="441.97" width="12.77" height="12.96" fill="#130789"/>
<rect x="162.71" y="441.97" width="24.54" height="12.96" fill="#0d0887"/>
<rect x="186.25" y="441.97" width="12.77" height="12.96" fill="#130789"/>
<rect x="198.02" y="441.97" width="12.77" height="12.96" fill="#1b068d"/>
<rect x="209.79" y="441.97" width="12.77" height="12.96" fill="#20068f"/>
<rect x="221.56" y="441.97" width="12.77" height="12.96" fill="#260591"/>
<rect x="233.33" y="441.97" width="11.77" height="12.96" fill="#2a0593"/>
<rect x="45.00" y="453.93" width="12.77" height="12.96" fill="#b6308b"/>
<rect x="56.77" y="453.93" width="12.77" height="12.96" fill="#a72197"/>
<rect x="68.54" y="453.93" width="12.77" height="12.96" fill="#8f0da4"/>
<rect x="80.31" y="453.93" width="12.77" height="12.96" fill="#7201a8"/>
<rect x="92.08" y="453.93" width="12.77" height="12.96" fill="#5601a4"/>
<rect x="103.85" y="453.93" width="12.77" height="12.96" fill="#41049d"/>
<rect x="115.62" y="453.93" width="12.77" height="12.96" fill="#2f0596"/>
<rect x="127.39" y="453.93" width="12.77" height="12.96" fill="#20068f"/>
<rect x="139.16" y="453.93" width="24.54" height="12.96" fill="#130789"/>
<rect x="162.71" y="453.93" width="24.54" height="12.96" fill="#0d0887"/>
<rect x="186.25" y="453.93" width="12.77" height="12.96" fill="#130789"/>
<rect x="198.02" y="453.93" width="12.77" height="12.96" fill="#19068c"/>
<rect x="209.79" y="453.93" width="12.77" height="12.96" fill="#260591"/>
<rect x="221.56" y="453.93" width="12.77" height="12.96" fill="#2f0596"/>
<rect x="233.33" y="453.93" width="11.77" height="12.96" fill="#330597"/>
<rect x="45.00" y="465.89" width="12.77" height="12.96" fill="#c43e7f"/>
<rect x="56.77" y="465.89" width="12.77" height="12.96" fill="#b6308b"/>
<rect x="68.54" y="465.89" width="12.77" height="12.96" fill="#a11b9b"/>
<rect x="80.31" y="465.89" width="12.77" height="12.96" fill="#8606a6"/>
<rect x="92.08" y="465.89" width="12.77" height="12.96" fill="#6a00a8"/>
<rect x="103.85" y="465.89" width="12.77" height="12.96" fill="#5102a3"/>
<rect x="115.62" y="465.89" width="12.77" height="12.96" fill="#3e049c"/>
<rect x="127.39" y="465.89" width="12.77" height="12.96" fill="#2f0596"/>
<rect x="139.16" y="465.89" width="24.54" height="12.96" fill="#20068f"/>
<rect x="162.71" y="465.89" width="24.54" height="12.96" fill="#19068c"/>
<rect x="186.25" y="465.89" width="12.77" height="12.96" fill="#20068f"/>
<rect x="198.02" y="465.89" width="12.77" height="12.96" fill="#240691"/>
<rect x="209.79" y="465.89" width="12.77" height="12.96" fill="#330597"/>
<rect x="221.56" y="465.89" width="12.77" height="12.96" fill="#3e049c"/>
<rect x="233.33" y="465.89" width="11.77" height="12.96" fill="#41049d"/>
<rect x="45.00" y="477.85" width="12.77" height="12.96" fill="#d5536f"/>
<rect x="56.77" y="477.85" width="12.77" height="12.96" fill="#c9447a"/>
<rect x="68.54" y="477.85" width="12.77" height="12.96" fill="#b6308b"/>
<rect x="80.31" y="477.85" width="12.77" height="12.96" fill="#9613a1"/>
<rect x="92.08" y="477.85" width="12.77" height="12.96" fill="#7a02a8"/>
<rect x="103.85" y="477.85" width="12.77" height="12.96" fill="#6300a7"/>
<rect x="115.62" y="477.85" width="12.77" height="12.96" fill="#4e02a2"/>
<rect x="127.39" y="477.85" width="12.77" height="12.96" fill="#3e049c"/>
<rect x="139.16" y="477.85" width="24.54" height="12.96" fill="#2e0595"/>
<rect x="162.71" y="477.85" width="24.54" height="12.96" fill="#2a0593"/>
<rect x="186.25" y="477.85" width="12.77" height="12.96" fill="#2e0595"/>
<rect x="198.02" y="477.85" width="12.77" height="12.96" fill="#330597"/>
<rect x="209.79" y="477.85" width="12.77" height="12.96" fill="#41049d"/>
<rect x="221.56" y="477.85" width="12.77" height="12.96" fill="#4903a0"/>
<rect x="233.33" y="477.85" width="11.77" height="12.96" fill="#5102a3"/>
<rect x="45.00" y="489.81" width="12.77" height="12.96" fill="#e76e5b"/>
<rect x="56.77" y="489.81" width="12.77" height="12.96" fill="#dd5e66"/>
<rect x="68.54" y="489.81" width="12.77" height="12.96" fill="#cc4778"/>
<rect x="80.31" y="489.81" width="12.77" height="12.96" fill="#ad2793"/>
<rect x="92.08" y="489.81" width="12.77" height="12.96" fill="#8f0da4"/>
<rect x="103.85" y="489.81" width="12.77" height="12.96" fill="#7501a8"/>
<rect x="115.62" y="489.81" width="12.77" height="12.96" fill="#6300a7"/>
<rect x="127.39" y="489.81" width="12.77" height="12.96" fill="#5102a3"/>
<rect x="139.16" y="489.81" width="12.77" height="12.96" fill="#38049a"/>
<rect x="150.94" y="489.81" width="12.77" height="12.96" fill="#3e049c"/>
<rect x="162.71" y="489.81" width="36.31" height="12.96" fill="#330597"/>
<rect x="198.02" y="489.81" width="12.77" height="12.96" fill="#41049d"/>
<rect x="209.79" y="489.81" width="12.77" height="12.96" fill="#4903a0"/>
<rect x="221.56" y="489.81" width="12.77" height="12.96" fill="#5901a5"/>
<rect x="233.33" y="489.81" width="11.77" height="12.96" fill="#6300a7"/>
<rect x="45.00" y="501.76" width="12.77" height="12.96" fill="#f79143"/>
<rect x="56.77" y="501.76" width="12.77" height="12.96" fill="#f2844b"/>
<rect x="68.54" y="501.76" width="12.77" height="12.96" fill="#e56a5d"/>
<rect x="80.31" y="501.76" width="12.77" height="12.96" fill="#cc4778"/>
<rect x="92.08" y="501.76" width="12.77" height="12.96" fill="#b12a90"/>
<rect x="103.85" y="501.76" width="12.77" height="12.96" fill="#9410a2"/>
<rect x="115.62" y="501.76" width="12.77" height="12.96" fill="#7e03a8"/>
<rect x="127.39" y="501.76" width="12.77" height="12.96" fill="#6a00a8"/>
<rect x="139.16" y="501.76" width="24.54" height="12.96" fill="#5102a3"/>
<rect x="162.71" y="501.76" width="12.77" height="12.96" fill="#4903a0"/>
<rect x="174.48" y="501.76" width="12.77" height="12.96" fill="#46039f"/>
<rect x="186.25" y="501.76" width="12.77" height="12.96" fill="#4903a0"/>
<rect x="198.02" y="501.76" width="12.77" height="12.96" fill="#5102a3"/>
<rect x="209.79" y="501.76" width="12.77" height="12.96" fill="#5901a5"/>
<rect x="221.56" y="501.76" width="12.77" height="12.96" fill="#6a00a8"/>
<rect x="233.33" y="501.76" width="11.77" height="12.96" fill="#7501a8"/>
<rect x="45.00" y="513.72" width="12.77" height="12.96" fill="#feba2c"/>
<rect x="56.77" y="513.72" width="12.77" height="12.96" fill="#fdab33"/>
<rect x="68.54" y="513.72" width="12.77" height="12.96" fill="#f68d45"/>
<rect x="80.31" y="513.72" width="12.77" height="12.96" fill="#e3685f"/>
<rect x="92.08" y="513.72" width="12.77" height="12.96" fill="#cc4778"/>
<rect x="103.85" y="513.72" width="12.77" height="12.96" fill="#b12a90"/>
<rect x="115.62" y="513.72" width="12.77" height="12.96" fill="#9613a1"/>
<rect x="127.39" y="513.72" width="12.77" height="12.96" fill="#8606a6"/>
<rect x="139.16" y="513.72" width="12.77" height="12.96" fill="#6a00a8"/>
<rect x="150.94" y="513.72" width="12.77" height="12.96" fill="#6600a7"/>
<rect x="162.71" y="513.72" width="12.77" height="12.96" fill="#5e01a6"/>
<rect x="174.48" y="513.72" width="24.54" height="12.96" fill="#5901a5"/>
<rect x="198.02" y="513.72" width="12.77" height="12.96" fill="#6600a7"/>
<rect x="209.79" y="513.72" width="12.77" height="12.96" fill="#6e00a8"/>
<rect x="221.56" y="513.72" width="12.77" height="12.96" fill="#7e03a8"/>
<rect x="233.33" y="513.72" width="11.77" height="12.96" fill="#8808a6"/>
<rect x="45.00" y="525.68" width="12.77" height="12.96" fill="#f8df25"/>
<rect x="56.77" y="525.68" width="12.77" height="12.96" fill="#fdca26"/>
<rect x="68.54" y="525.68" width="12.77" height="12.96" fill="#fdab33"/>
<rect x="80.31" y="525.68" width="12.77" height="12.96" fill="#f2844b"/>
<rect x="92.08" y="525.68" width="12.77" height="12.96" fill="#dd5e66"/>
<rect x="103.85" y="525.68" width="12.77" height="12.96" fill="#c43e7f"/>
<rect x="115.62" y="525.68" width="12.77" height="12.96" fill="#ad2793"/>
<rect x="127.39" y="525.68" width="12.77" height="12.96" fill="#9a169f"/>
<rect x="139.16" y="525.68" width="12.77" height="12.96" fill="#8104a7"/>
<rect x="150.94" y="525.68" width="12.77" height="12.96" fill="#7a02a8"/>
<rect x="162.71" y="525.68" width="12.77" height="12.96" fill="#7201a8"/>
<rect x="174.48" y="525.68" width="24.54" height="12.96" fill="#6e00a8"/>
<rect x="198.02" y="525.68" width="12.77" height="12.96" fill="#7a02a8"/>
<rect x="209.79" y="525.68" width="12.77" height="12.96" fill="#8104a7"/>
<rect x="221.56" y="525.68" width="12.77" height="12.96" fill="#8f0da4"/>
<rect x="233.33" y="525.68" width="11.77" height="12.96" fill="#9a169f"/>
<rect x="45.00" y="537.64" width="12.77" height="11.96" fill="#f0f921"/>
<rect x="56.77" y="537.64" width="12.77" height="11.96" fill="#f7e425"/>
<rect x="68.54" y="537.64" width="12.77" height="11.96" fill="#febe2a"/>
<rect x="80.31" y="537.64" width="12.77" height="11.96" fill="#f89540"/>
<rect x="92.08" y="537.64" width="12.77" height="11.96" fill="#e56a5d"/>
<rect x="103.85" y="537.64" width="12.77" height="11.96" fill="#d04d73"/>
<rect x="115.62" y="537.64" width="12.77" height="11.96" fill="#bc3587"/>
<rect x="127.39" y="537.64" width="12.77" height="11.96" fill="#ab2494"/>
<rect x="139.16" y="537.64" width="12.77" height="11.96" fill="#9410a2"/>
<rect x="150.94" y="537.64" width="12.77" height="11.96" fill="#8808a6"/>
<rect x="162.71" y="537.64" width="12.77" height="11.96" fill="#8104a7"/>
<rect x="174.48" y="537.64" width="24.54" height="11.96" fill="#7e03a8"/>
<rect x="198.02" y="537.64" width="12.77" height="11.96" fill="#8808a6"/>
<rect x="209.79" y="537.64" width="12.77" height="11.96" fill="#8f0da4"/>
<rect x="221.56" y="537.64" width="12.77" height="11.96" fill="#9e199d"/>
<rect x="233.33" y="537.64" width="11.77" height="11.96" fill="#a72197"/>
<line x1="34.6" y1="549.6" x2="34.6" y2="349.3" stroke="#666" stroke-width="1"/>
<path d="M34.6 346.3 L32.0 351.3 L37.2 351.3 Z" fill="#000"/>
<line x1="45.0" y1="557.0" x2="242" y2="557.0" stroke="#666" stroke-width="1"/>
<path d="M245 557.0 L240 554.4 L240 559.6 Z" fill="#000"/>
<text transform="translate(42.6,571.2) scale(0.945,1)" text-anchor="start" font-family="Liberation Sans, Arial, sans-serif" font-size="12.4" stroke="#000" stroke-width="0.15">100</text>
<text transform="translate(254.6,571.2) scale(0.945,1)" text-anchor="end" font-family="Liberation Sans, Arial, sans-serif" font-size="12.4" stroke="#000" stroke-width="0.15">10,000</text>
<text x="143.2" y="580" text-anchor="middle" font-family="Liberation Sans, Arial, sans-serif" font-size="17.9" stroke="#000" stroke-width="0.25">N_current_1</text>
<text transform="translate(25.9,554.5) rotate(-90) scale(0.94,1)" text-anchor="start" font-family="Liberation Sans, Arial, sans-serif" font-size="12.3" stroke="#000" stroke-width="0.15">100</text>
<text transform="translate(25.9,349.2) rotate(-90) scale(0.94,1)" text-anchor="end" font-family="Liberation Sans, Arial, sans-serif" font-size="12.3" stroke="#000" stroke-width="0.15">10,000</text>
<text transform="translate(25.1,447.8) rotate(-90)" text-anchor="middle" font-family="Liberation Sans, Arial, sans-serif" font-size="17.9" stroke="#000" stroke-width="0.25">N_current_2</text>
<defs><linearGradient id="cb2" x1="0" y1="0" x2="0" y2="1"><stop offset="0.00" stop-color="#f0f921"/><stop offset="0.05" stop-color="#f7e425"/><stop offset="0.10" stop-color="#fcce25"/><stop offset="0.15" stop-color="#feba2c"/><stop offset="0.20" stop-color="#fca636"/><stop offset="0.25" stop-color="#f89540"/><stop offset="0.30" stop-color="#f2844b"/><stop offset="0.35" stop-color="#ea7457"/><stop offset="0.40" stop-color="#e16462"/><stop offset="0.45" stop-color="#d6556d"/><stop offset="0.50" stop-color="#cc4778"/><stop offset="0.55" stop-color="#bf3984"/><stop offset="0.60" stop-color="#b12a90"/><stop offset="0.65" stop-color="#a11b9b"/><stop offset="0.70" stop-color="#8f0da4"/><stop offset="0.75" stop-color="#7e03a8"/><stop offset="0.80" stop-color="#6a00a8"/><stop offset="0.85" stop-color="#5601a4"/><stop offset="0.90" stop-color="#41049d"/><stop offset="0.95" stop-color="#2a0593"/><stop offset="1.00" stop-color="#0d0887"/></linearGradient></defs>
<rect x="257.90" y="346.30" width="10.10" height="203.30" fill="url(#cb2)"/>
<line x1="268.00" y1="358.40" x2="269.80" y2="358.40" stroke="#333" stroke-width="0.6"/>
<text x="272.10" y="361.20" font-family="DejaVu Sans, sans-serif" font-size="7.6" fill="#111" stroke="#111" stroke-width="0.15">2.75<tspan dx="1.0">×</tspan><tspan dx="1.0">10</tspan><tspan dy="-2.8" font-size="5.4">−2</tspan></text>
<line x1="268.00" y1="376.40" x2="269.80" y2="376.40" stroke="#333" stroke-width="0.6"/>
<text x="272.10" y="379.20" font-family="DejaVu Sans, sans-serif" font-size="7.6" fill="#111" stroke="#111" stroke-width="0.15">2.5<tspan dx="1.0">×</tspan><tspan dx="1.0">10</tspan><tspan dy="-2.8" font-size="5.4">−2</tspan></text>
<line x1="268.00" y1="396.30" x2="269.80" y2="396.30" stroke="#333" stroke-width="0.6"/>
<text x="272.10" y="399.10" font-family="DejaVu Sans, sans-serif" font-size="7.6" fill="#111" stroke="#111" stroke-width="0.15">2.25<tspan dx="1.0">×</tspan><tspan dx="1.0">10</tspan><tspan dy="-2.8" font-size="5.4">−2</tspan></text>
<line x1="268.00" y1="418.60" x2="269.80" y2="418.60" stroke="#333" stroke-width="0.6"/>
<text x="272.10" y="421.40" font-family="DejaVu Sans, sans-serif" font-size="7.6" fill="#111" stroke="#111" stroke-width="0.15">2<tspan dx="1.0">×</tspan><tspan dx="1.0">10</tspan><tspan dy="-2.8" font-size="5.4">−2</tspan></text>
<line x1="268.00" y1="443.80" x2="269.80" y2="443.80" stroke="#333" stroke-width="0.6"/>
<text x="272.10" y="446.60" font-family="DejaVu Sans, sans-serif" font-size="7.6" fill="#111" stroke="#111" stroke-width="0.15">1.75<tspan dx="1.0">×</tspan><tspan dx="1.0">10</tspan><tspan dy="-2.8" font-size="5.4">−2</tspan></text>
<line x1="268.00" y1="473.00" x2="269.80" y2="473.00" stroke="#333" stroke-width="0.6"/>
<text x="272.10" y="475.80" font-family="DejaVu Sans, sans-serif" font-size="7.6" fill="#111" stroke="#111" stroke-width="0.15">1.5<tspan dx="1.0">×</tspan><tspan dx="1.0">10</tspan><tspan dy="-2.8" font-size="5.4">−2</tspan></text>
<line x1="268.00" y1="507.40" x2="269.80" y2="507.40" stroke="#333" stroke-width="0.6"/>
<text x="272.10" y="510.20" font-family="DejaVu Sans, sans-serif" font-size="7.6" fill="#111" stroke="#111" stroke-width="0.15">1.25<tspan dx="1.0">×</tspan><tspan dx="1.0">10</tspan><tspan dy="-2.8" font-size="5.4">−2</tspan></text>
<line x1="268.00" y1="549.60" x2="270.80" y2="549.60" stroke="#333" stroke-width="0.6"/>
<text x="273.80" y="552.40" font-family="DejaVu Sans, sans-serif" font-size="7.6" fill="#111" stroke="#111" stroke-width="0.15">10<tspan dy="-2.8" font-size="5.4">−2</tspan></text>
<text x="380.2" y="316.5" text-anchor="start" font-family="Liberation Sans, Arial, sans-serif" font-size="26.8" stroke="#000" stroke-width="0.3">D</text>
<text x="532.6" y="332" text-anchor="middle" font-family="Liberation Sans, Arial, sans-serif" font-size="24.3" stroke="#000" stroke-width="0.3">N_current</text>
<rect x="426.40" y="346.30" width="200.50" height="203.30" fill="#0d0887"/>
<rect x="426.40" y="346.30" width="16.42" height="12.96" fill="#f1f525"/>
<rect x="441.82" y="346.30" width="16.42" height="12.96" fill="#f4ed27"/>
<rect x="457.25" y="346.30" width="16.42" height="12.96" fill="#fcd225"/>
<rect x="472.67" y="346.30" width="16.42" height="12.96" fill="#fdae32"/>
<rect x="488.09" y="346.30" width="16.42" height="12.96" fill="#f58b47"/>
<rect x="503.52" y="346.30" width="16.42" height="12.96" fill="#e76e5b"/>
<rect x="518.94" y="346.30" width="16.42" height="12.96" fill="#d6556d"/>
<rect x="534.36" y="346.30" width="16.42" height="12.96" fill="#cc4778"/>
<rect x="549.78" y="346.30" width="16.42" height="12.96" fill="#c43e7f"/>
<rect x="565.21" y="346.30" width="16.42" height="12.96" fill="#bf3984"/>
<rect x="580.63" y="346.30" width="16.42" height="12.96" fill="#bc3587"/>
<rect x="596.05" y="346.30" width="16.42" height="12.96" fill="#ba3388"/>
<rect x="611.48" y="346.30" width="15.42" height="12.96" fill="#b6308b"/>
<rect x="426.40" y="358.26" width="16.42" height="12.96" fill="#f4ed27"/>
<rect x="441.82" y="358.26" width="16.42" height="12.96" fill="#f8df25"/>
<rect x="457.25" y="358.26" width="16.42" height="12.96" fill="#fdc627"/>
<rect x="472.67" y="358.26" width="16.42" height="12.96" fill="#fca338"/>
<rect x="488.09" y="358.26" width="16.42" height="12.96" fill="#f0804e"/>
<rect x="503.52" y="358.26" width="16.42" height="12.96" fill="#e16462"/>
<rect x="518.94" y="358.26" width="16.42" height="12.96" fill="#d04d73"/>
<rect x="534.36" y="358.26" width="16.42" height="12.96" fill="#c43e7f"/>
<rect x="549.78" y="358.26" width="16.42" height="12.96" fill="#bc3587"/>
<rect x="565.21" y="358.26" width="16.42" height="12.96" fill="#b6308b"/>
<rect x="580.63" y="358.26" width="16.42" height="12.96" fill="#b32c8e"/>
<rect x="596.05" y="358.26" width="16.42" height="12.96" fill="#b12a90"/>
<rect x="611.48" y="358.26" width="15.42" height="12.96" fill="#ad2793"/>
<rect x="426.40" y="370.22" width="16.42" height="12.96" fill="#fcce25"/>
<rect x="441.82" y="370.22" width="16.42" height="12.96" fill="#fdc229"/>
<rect x="457.25" y="370.22" width="16.42" height="12.96" fill="#fdab33"/>
<rect x="472.67" y="370.22" width="16.42" height="12.96" fill="#f79143"/>
<rect x="488.09" y="370.22" width="16.42" height="12.96" fill="#e87059"/>
<rect x="503.52" y="370.22" width="16.42" height="12.96" fill="#d6556d"/>
<rect x="518.94" y="370.22" width="16.42" height="12.96" fill="#c6417d"/>
<rect x="534.36" y="370.22" width="16.42" height="12.96" fill="#ba3388"/>
<rect x="549.78" y="370.22" width="16.42" height="12.96" fill="#b12a90"/>
<rect x="565.21" y="370.22" width="16.42" height="12.96" fill="#ab2494"/>
<rect x="580.63" y="370.22" width="16.42" height="12.96" fill="#a72197"/>
<rect x="596.05" y="370.22" width="30.85" height="12.96" fill="#a51f99"/>
<rect x="426.40" y="382.18" width="16.42" height="12.96" fill="#feb72d"/>
<rect x="441.82" y="382.18" width="16.42" height="12.96" fill="#fdab33"/>
<rect x="457.25" y="382.18" width="16.42" height="12.96" fill="#f89540"/>
<rect x="472.67" y="382.18" width="16.42" height="12.96" fill="#ed7a52"/>
<rect x="488.09" y="382.18" width="16.42" height="12.96" fill="#dd5e66"/>
<rect x="503.52" y="382.18" width="16.42" height="12.96" fill="#cc4778"/>
<rect x="518.94" y="382.18" width="16.42" height="12.96" fill="#ba3388"/>
<rect x="534.36" y="382.18" width="16.42" height="12.96" fill="#ab2494"/>
<rect x="549.78" y="382.18" width="16.42" height="12.96" fill="#a51f99"/>
<rect x="565.21" y="382.18" width="16.42" height="12.96" fill="#9e199d"/>
<rect x="580.63" y="382.18" width="16.42" height="12.96" fill="#9a169f"/>
<rect x="596.05" y="382.18" width="30.85" height="12.96" fill="#9613a1"/>
<rect x="426.40" y="394.14" width="16.42" height="12.96" fill="#fb9f3a"/>
<rect x="441.82" y="394.14" width="16.42" height="12.96" fill="#f79143"/>
<rect x="457.25" y="394.14" width="16.42" height="12.96" fill="#ef7e50"/>
<rect x="472.67" y="394.14" width="16.42" height="12.96" fill="#e16462"/>
<rect x="488.09" y="394.14" width="16.42" height="12.96" fill="#d04d73"/>
<rect x="503.52" y="394.14" width="16.42" height="12.96" fill="#bc3587"/>
<rect x="518.94" y="394.14" width="16.42" height="12.96" fill="#ab2494"/>
<rect x="534.36" y="394.14" width="16.42" height="12.96" fill="#9e199d"/>
<rect x="549.78" y="394.14" width="16.42" height="12.96" fill="#9410a2"/>
<rect x="565.21" y="394.14" width="16.42" height="12.96" fill="#8d0ba5"/>
<rect x="580.63" y="394.14" width="31.85" height="12.96" fill="#8808a6"/>
<rect x="611.48" y="394.14" width="15.42" height="12.96" fill="#8606a6"/>
<rect x="426.40" y="406.09" width="16.42" height="12.96" fill="#f58b47"/>
<rect x="441.82" y="406.09" width="16.42" height="12.96" fill="#ef7e50"/>
<rect x="457.25" y="406.09" width="16.42" height="12.96" fill="#e56a5d"/>
<rect x="472.67" y="406.09" width="16.42" height="12.96" fill="#d5536f"/>
<rect x="488.09" y="406.09" width="16.42" height="12.96" fill="#c13b82"/>
<rect x="503.52" y="406.09" width="16.42" height="12.96" fill="#ad2793"/>
<rect x="518.94" y="406.09" width="16.42" height="12.96" fill="#9a169f"/>
<rect x="534.36" y="406.09" width="16.42" height="12.96" fill="#8d0ba5"/>
<rect x="549.78" y="406.09" width="16.42" height="12.96" fill="#8104a7"/>
<rect x="565.21" y="406.09" width="16.42" height="12.96" fill="#7a02a8"/>
<rect x="580.63" y="406.09" width="16.42" height="12.96" fill="#7501a8"/>
<rect x="596.05" y="406.09" width="30.85" height="12.96" fill="#7201a8"/>
<rect x="426.40" y="418.05" width="16.42" height="12.96" fill="#eb7655"/>
<rect x="441.82" y="418.05" width="16.42" height="12.96" fill="#e56a5d"/>
<rect x="457.25" y="418.05" width="16.42" height="12.96" fill="#d9586a"/>
<rect x="472.67" y="418.05" width="16.42" height="12.96" fill="#c6417d"/>
<rect x="488.09" y="418.05" width="16.42" height="12.96" fill="#b32c8e"/>
<rect x="503.52" y="418.05" width="16.42" height="12.96" fill="#9e199d"/>
<rect x="518.94" y="418.05" width="16.42" height="12.96" fill="#8808a6"/>
<rect x="534.36" y="418.05" width="16.42" height="12.96" fill="#7a02a8"/>
<rect x="549.78" y="418.05" width="16.42" height="12.96" fill="#6e00a8"/>
<rect x="565.21" y="418.05" width="16.42" height="12.96" fill="#6600a7"/>
<rect x="580.63" y="418.05" width="16.42" height="12.96" fill="#5e01a6"/>
<rect x="596.05" y="418.05" width="30.85" height="12.96" fill="#5901a5"/>
<rect x="426.40" y="430.01" width="16.42" height="12.96" fill="#e16462"/>
<rect x="441.82" y="430.01" width="16.42" height="12.96" fill="#d9586a"/>
<rect x="457.25" y="430.01" width="16.42" height="12.96" fill="#cc4778"/>
<rect x="472.67" y="430.01" width="16.42" height="12.96" fill="#ba3388"/>
<rect x="488.09" y="430.01" width="16.42" height="12.96" fill="#a11b9b"/>
<rect x="503.52" y="430.01" width="16.42" height="12.96" fill="#8808a6"/>
<rect x="518.94" y="430.01" width="16.42" height="12.96" fill="#7501a8"/>
<rect x="534.36" y="430.01" width="16.42" height="12.96" fill="#6600a7"/>
<rect x="549.78" y="430.01" width="16.42" height="12.96" fill="#5901a5"/>
<rect x="565.21" y="430.01" width="16.42" height="12.96" fill="#5102a3"/>
<rect x="580.63" y="430.01" width="16.42" height="12.96" fill="#4903a0"/>
<rect x="596.05" y="430.01" width="16.42" height="12.96" fill="#41049d"/>
<rect x="611.48" y="430.01" width="15.42" height="12.96" fill="#3e049c"/>
<rect x="426.40" y="441.97" width="16.42" height="12.96" fill="#d6556d"/>
<rect x="441.82" y="441.97" width="16.42" height="12.96" fill="#cc4778"/>
<rect x="457.25" y="441.97" width="16.42" height="12.96" fill="#ba3388"/>
<rect x="472.67" y="441.97" width="16.42" height="12.96" fill="#a51f99"/>
<rect x="488.09" y="441.97" width="16.42" height="12.96" fill="#8808a6"/>
<rect x="503.52" y="441.97" width="16.42" height="12.96" fill="#7201a8"/>
<rect x="518.94" y="441.97" width="16.42" height="12.96" fill="#5e01a6"/>
<rect x="534.36" y="441.97" width="16.42" height="12.96" fill="#4903a0"/>
<rect x="549.78" y="441.97" width="16.42" height="12.96" fill="#3e049c"/>
<rect x="565.21" y="441.97" width="16.42" height="12.96" fill="#330597"/>
<rect x="580.63" y="441.97" width="16.42" height="12.96" fill="#2a0593"/>
<rect x="596.05" y="441.97" width="16.42" height="12.96" fill="#20068f"/>
<rect x="611.48" y="441.97" width="15.42" height="12.96" fill="#130789"/>
<rect x="426.40" y="453.93" width="16.42" height="12.96" fill="#cc4778"/>
<rect x="441.82" y="453.93" width="16.42" height="12.96" fill="#bc3587"/>
<rect x="457.25" y="453.93" width="16.42" height="12.96" fill="#a72197"/>
<rect x="472.67" y="453.93" width="16.42" height="12.96" fill="#8f0da4"/>
<rect x="488.09" y="453.93" width="16.42" height="12.96" fill="#7201a8"/>
<rect x="503.52" y="453.93" width="16.42" height="12.96" fill="#5601a4"/>
<rect x="518.94" y="453.93" width="16.42" height="12.96" fill="#3e049c"/>
<rect x="534.36" y="453.93" width="16.42" height="12.96" fill="#260591"/>
<rect x="549.78" y="453.93" width="77.12" height="12.96" fill="#0d0887"/>
<rect x="426.40" y="465.89" width="16.42" height="12.96" fill="#bf3984"/>
<rect x="441.82" y="465.89" width="16.42" height="12.96" fill="#ad2793"/>
<rect x="457.25" y="465.89" width="16.42" height="12.96" fill="#9613a1"/>
<rect x="472.67" y="465.89" width="16.42" height="12.96" fill="#7a02a8"/>
<rect x="488.09" y="465.89" width="16.42" height="12.96" fill="#5901a5"/>
<rect x="503.52" y="465.89" width="16.42" height="12.96" fill="#310597"/>
<rect x="518.94" y="465.89" width="107.96" height="12.96" fill="#0d0887"/>
<rect x="426.40" y="477.85" width="16.42" height="12.96" fill="#ad2793"/>
<rect x="441.82" y="477.85" width="16.42" height="12.96" fill="#9a169f"/>
<rect x="457.25" y="477.85" width="16.42" height="12.96" fill="#7e03a8"/>
<rect x="472.67" y="477.85" width="16.42" height="12.96" fill="#5e01a6"/>
<rect x="488.09" y="477.85" width="16.42" height="12.96" fill="#330597"/>
<rect x="503.52" y="477.85" width="123.38" height="12.96" fill="#0d0887"/>
<rect x="426.40" y="489.81" width="16.42" height="12.96" fill="#8f0da4"/>
<rect x="441.82" y="489.81" width="16.42" height="12.96" fill="#7a02a8"/>
<rect x="457.25" y="489.81" width="16.42" height="12.96" fill="#5901a5"/>
<rect x="472.67" y="489.81" width="16.42" height="12.96" fill="#330597"/>
<rect x="488.09" y="489.81" width="138.81" height="12.96" fill="#0d0887"/>
<rect x="426.40" y="501.76" width="16.42" height="12.96" fill="#7201a8"/>
<rect x="441.82" y="501.76" width="16.42" height="12.96" fill="#5801a4"/>
<rect x="457.25" y="501.76" width="16.42" height="12.96" fill="#370499"/>
<rect x="472.67" y="501.76" width="154.23" height="12.96" fill="#0d0887"/>
<rect x="426.40" y="513.72" width="16.42" height="12.96" fill="#5102a3"/>
<rect x="441.82" y="513.72" width="16.42" height="12.96" fill="#38049a"/>
<rect x="457.25" y="513.72" width="169.65" height="12.96" fill="#0d0887"/>
<rect x="426.40" y="525.68" width="16.42" height="12.96" fill="#38049a"/>
<rect x="441.82" y="525.68" width="16.42" height="12.96" fill="#20068f"/>
<rect x="457.25" y="525.68" width="169.65" height="12.96" fill="#0d0887"/>
<rect x="426.40" y="537.64" width="16.42" height="11.96" fill="#20068f"/>
<rect x="441.82" y="537.64" width="185.08" height="11.96" fill="#0d0887"/>
<line x1="416.9" y1="549.6" x2="416.9" y2="349.3" stroke="#666" stroke-width="1"/>
<path d="M416.9 346.3 L414.29999999999995 351.3 L419.5 351.3 Z" fill="#000"/>
<line x1="426.4" y1="558.5" x2="624.1" y2="558.5" stroke="#666" stroke-width="1"/>
<path d="M627.1 558.5 L622.1 555.9 L622.1 561.1 Z" fill="#000"/>
<text transform="translate(427,573.6) scale(0.945,1)" text-anchor="start" font-family="Liberation Sans, Arial, sans-serif" font-size="12.4" stroke="#000" stroke-width="0.15">1</text>
<text transform="translate(631.8,573.6) scale(0.945,1)" text-anchor="end" font-family="Liberation Sans, Arial, sans-serif" font-size="12.4" stroke="#000" stroke-width="0.15">5,000</text>
<text x="526.2" y="581.0" text-anchor="middle" font-family="Liberation Sans, Arial, sans-serif" font-size="17.9" stroke="#000" stroke-width="0.25">Split_time</text>
<text transform="translate(410.8,551.6) rotate(-90) scale(0.94,1)" text-anchor="start" font-family="Liberation Sans, Arial, sans-serif" font-size="12.3" stroke="#000" stroke-width="0.15">100</text>
<text transform="translate(410.8,348.4) rotate(-90) scale(0.94,1)" text-anchor="end" font-family="Liberation Sans, Arial, sans-serif" font-size="12.3" stroke="#000" stroke-width="0.15">10,000</text>
<text transform="translate(407.8,448.6) rotate(-90)" text-anchor="middle" font-family="Liberation Sans, Arial, sans-serif" font-size="17.9" stroke="#000" stroke-width="0.25">N_current_1</text>
<defs><linearGradient id="cb3" x1="0" y1="0" x2="0" y2="1"><stop offset="0.00" stop-color="#f0f921"/><stop offset="0.05" stop-color="#f7e425"/><stop offset="0.10" stop-color="#fcce25"/><stop offset="0.15" stop-color="#feba2c"/><stop offset="0.20" stop-color="#fca636"/><stop offset="0.25" stop-color="#f89540"/><stop offset="0.30" stop-color="#f2844b"/><stop offset="0.35" stop-color="#ea7457"/><stop offset="0.40" stop-color="#e16462"/><stop offset="0.45" stop-color="#d6556d"/><stop offset="0.50" stop-color="#cc4778"/><stop offset="0.55" stop-color="#bf3984"/><stop offset="0.60" stop-color="#b12a90"/><stop offset="0.65" stop-color="#a11b9b"/><stop offset="0.70" stop-color="#8f0da4"/><stop offset="0.75" stop-color="#7e03a8"/><stop offset="0.80" stop-color="#6a00a8"/><stop offset="0.85" stop-color="#5601a4"/><stop offset="0.90" stop-color="#41049d"/><stop offset="0.95" stop-color="#2a0593"/><stop offset="1.00" stop-color="#0d0887"/></linearGradient></defs>
<rect x="639.90" y="346.30" width="10.10" height="203.30" fill="url(#cb3)"/>
<line x1="650.00" y1="363.80" x2="652.80" y2="363.80" stroke="#333" stroke-width="0.6"/>
<text x="655.80" y="366.60" font-family="DejaVu Sans, sans-serif" font-size="7.6" fill="#111" stroke="#111" stroke-width="0.15">10<tspan dy="-2.8" font-size="5.4">−1</tspan></text>
<line x1="650.00" y1="378.00" x2="651.50" y2="378.00" stroke="#333" stroke-width="0.6"/>
<line x1="650.00" y1="393.60" x2="651.50" y2="393.60" stroke="#333" stroke-width="0.6"/>
<line x1="650.00" y1="411.50" x2="651.50" y2="411.50" stroke="#333" stroke-width="0.6"/>
<line x1="650.00" y1="432.30" x2="651.80" y2="432.30" stroke="#333" stroke-width="0.6"/>
<text x="654.10" y="435.10" font-family="DejaVu Sans, sans-serif" font-size="7.6" fill="#111" stroke="#111" stroke-width="0.15">6<tspan dx="1.0">×</tspan><tspan dx="1.0">10</tspan><tspan dy="-2.8" font-size="5.4">−2</tspan></text>
<line x1="650.00" y1="456.50" x2="651.50" y2="456.50" stroke="#333" stroke-width="0.6"/>
<line x1="650.00" y1="486.20" x2="651.80" y2="486.20" stroke="#333" stroke-width="0.6"/>
<text x="654.10" y="489.00" font-family="DejaVu Sans, sans-serif" font-size="7.6" fill="#111" stroke="#111" stroke-width="0.15">4<tspan dx="1.0">×</tspan><tspan dx="1.0">10</tspan><tspan dy="-2.8" font-size="5.4">−2</tspan></text>
<line x1="650.00" y1="525.00" x2="651.80" y2="525.00" stroke="#333" stroke-width="0.6"/>
<text x="654.10" y="527.80" font-family="DejaVu Sans, sans-serif" font-size="7.6" fill="#111" stroke="#111" stroke-width="0.15">3<tspan dx="1.0">×</tspan><tspan dx="1.0">10</tspan><tspan dy="-2.8" font-size="5.4">−2</tspan></text>
</svg>
</body></html>
